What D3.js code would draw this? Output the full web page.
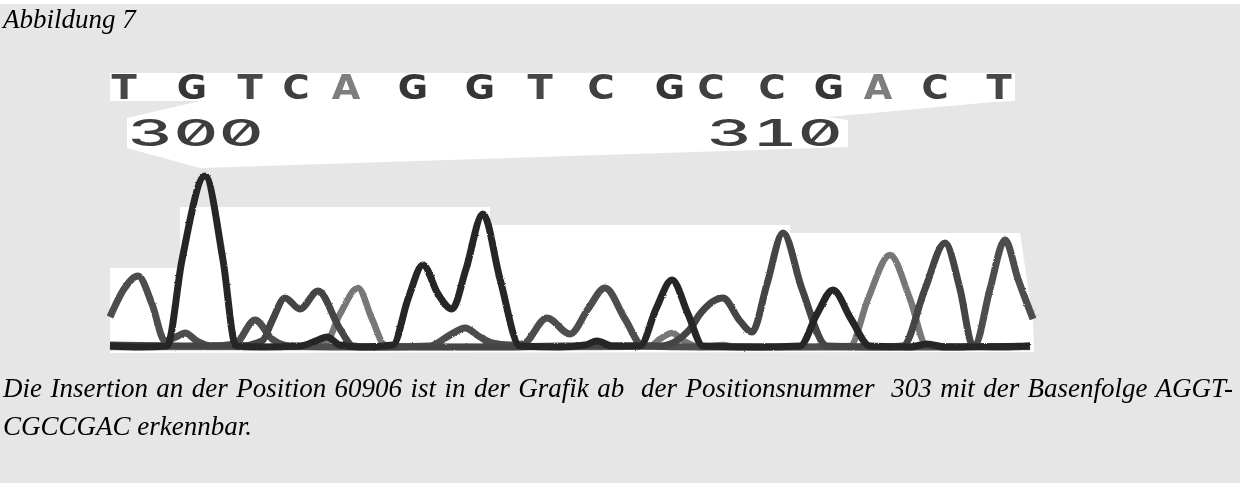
<!DOCTYPE html>
<html>
<head>
<meta charset="utf-8">
<script src="https://cdn.jsdelivr.net/npm/d3@7"></script>
<style>
  html, body { margin: 0; padding: 0; background: #e6e6e6; }
  svg { display: block; }
</style>
</head>
<body>
<svg id="fig" width="1240" height="483"></svg>
<script>
// Called bases and the scan positions they were called at
const bases = ["T","G","T","C","A","G","G","T","C","G","C","C","G","A","C","T"];
const baseScan = [14, 82, 140, 186, 236, 303, 370, 430, 491, 560, 601, 662, 719, 768, 825, 889];

// Position labels (left edge, in scan units)
const positionLabels = ["300", "310"];
const positionScan = [18, 597];

// Trace signal per dye channel: [scan, signal]
const traceG = [[0,3],[30,2],[57,3],[72,89],[95,173],[113,89],[126,3],[152,2],[190,3],[208,9],[217,12],[230,4],[250,2],
  [283,4],[298,50],[313,84],[328,55],[342,40],[356,80],[373,135],[390,70],[410,3],[450,2],[475,4],[487,8],[502,3],
  [530,3],[546,40],[562,69],[578,35],[593,3],[650,2],[690,3],[707,35],[723,59],[741,30],[760,3],[800,2],[817,5],[835,2],[920,3]];
const traceT = [[0,32],[14,60],[28,73],[42,45],[55,8],[66,12],[75,16],[87,8],[102,3],[125,5],[145,29],[162,10],[180,3],
  [220,2],[270,2],[320,3],[340,14],[355,21],[370,12],[382,6],[400,4],[413,5],[437,31],[460,15],[478,40],[495,61],[515,30],
  [533,3],[590,2],[690,2],[770,2],[850,2],[865,4],[880,60],[895,109],[908,70],[923,30]];
const traceC = [[0,4],[90,3],[130,3],[152,8],[162,28],[175,51],[190,40],[208,58],[230,20],[243,3],[260,2],[320,2],[390,2],
  [450,3],[550,3],[580,20],[590,35],[613,51],[630,28],[642,17],[657,65],[673,116],[692,60],[717,3],[770,2],[793,3],
  [815,60],[835,106],[850,60],[863,3],[890,2],[920,3]];
const traceA = [[0,2],[90,2],[190,2],[215,5],[230,35],[248,61],[262,30],[275,4],[310,2],[390,2],[490,2],[540,3],[550,10],
  [562,16],[574,8],[590,2],[602,3],[613,4],[625,2],[690,2],[740,3],[758,50],[780,94],[800,50],[817,3],[920,2]];

const channels = [
  { name: "A", data: traceA, color: "#777777", width: 6.5 },
  { name: "T", data: traceT, color: "#4d4d4d", width: 7 },
  { name: "C", data: traceC, color: "#454545", width: 7 },
  { name: "G", data: traceG, color: "#282828", width: 7 }
];
const baseColor = { A: "#7e7e7e", C: "#404040", G: "#363636", T: "#474747" };

const captionLines = [
  "Die Insertion an der Position 60906 ist in der Grafik ab  der Positionsnummer  303 mit der Basenfolge AGGT-",
  "CGCCGAC erkennbar."
];
const figureTitle = "Abbildung 7";
const serif = "'Liberation Serif', 'Times New Roman', Times, serif";

const svg = d3.select("#fig");
const W = 1240, H = 483;

// page
svg.append("rect").attr("width", W).attr("height", H).attr("fill", "#e6e6e6");
svg.append("rect").attr("width", W).attr("height", 4).attr("fill", "#ffffff");

const defs = svg.append("defs");
const rough = defs.append("filter").attr("id", "rough").attr("x", "-5%").attr("y", "-5%").attr("width", "110%").attr("height", "110%");
rough.append("feTurbulence").attr("type", "fractalNoise").attr("baseFrequency", 0.9).attr("numOctaves", 1).attr("seed", 4).attr("result", "n");
rough.append("feDisplacementMap").attr("in", "SourceGraphic").attr("in2", "n").attr("scale", 2.2)
  .attr("xChannelSelector", "R").attr("yChannelSelector", "G");
const soft = defs.append("filter").attr("id", "soft");
soft.append("feGaussianBlur").attr("stdDeviation", 0.6);

// white panels of the trace print-out
const panels = [
  [[110,73],[1015,73],[1015,101],[993,102],[828,117],[848,120],[848,147],[200,168],[127,148],[127,118],[200,101],[110,101]],
  [[110,268],[180,268],[180,207],[490,207],[490,225],[790,225],[790,233],[1020,233],[1030,300],[1033,318],[1034,352],[110,353]]
];
svg.append("g").selectAll("path").data(panels).join("path")
  .attr("d", p => "M" + p.join("L") + "Z")
  .attr("fill", "#ffffff");

// scales
const x = d3.scaleLinear().domain([0, 925]).range([110, 1035]);
const y = d3.scaleLinear().domain([0, 180]).range([349, 169]);

// base calls
svg.append("g").attr("filter", "url(#soft)")
  .selectAll("text").data(bases).join("text")
  .attr("transform", (d, i) => `translate(${x(baseScan[i])},99) scale(1.12,1)`)
  .attr("text-anchor", "middle")
  .attr("font-family", "DejaVu Sans")
  .attr("font-weight", "bold")
  .attr("font-size", 33)
  .attr("fill", d => baseColor[d])
  .text(d => d);

// position numbers, stretched horizontally like the print-out
const nums = svg.append("g").attr("filter", "url(#soft)")
  .selectAll("text").data(positionLabels).join("text")
  .attr("font-family", "Inter")
  .attr("font-size", 37)
  .attr("font-weight", 500)
  .style("font-feature-settings", "'zero' 1, 'tnum' 1")
  .attr("fill", "#3c3c3c")
  .text(d => d);
nums.attr("transform", function (d, i) {
  const s = 136 / this.getComputedTextLength();
  return `translate(${x(positionScan[i])},146) scale(${s},1)`;
});

// traces
const line = d3.line().x(d => x(d[0])).y(d => y(d[1])).curve(d3.curveMonotoneX);
svg.append("g").attr("filter", "url(#rough)")
  .selectAll("path").data(channels).join("path")
  .attr("d", c => line(c.data))
  .attr("fill", "none")
  .attr("stroke", c => c.color)
  .attr("stroke-width", c => c.width)
  .attr("stroke-linejoin", "round")
  .attr("stroke-linecap", "butt");

// figure title
svg.append("text")
  .attr("x", 3).attr("y", 28)
  .attr("font-family", serif)
  .attr("font-style", "italic")
  .attr("font-size", 27)
  .attr("fill", "#000")
  .text(figureTitle);

// caption, first line justified to the page width
const cap = svg.append("g");
captionLines.forEach((t, i) => {
  const el = cap.append("text")
    .attr("x", 3).attr("y", 397 + i * 38)
    .attr("font-family", serif)
    .attr("font-style", "italic")
    .attr("font-size", 27)
    .attr("fill", "#000")
    .style("white-space", "pre")
    .text(t);
  if (i === 0) {
    const natural = el.node().getComputedTextLength();
    const spaces = (t.match(/ /g) || []).length;
    el.attr("word-spacing", Math.max(0, (1230 - natural) / spaces));
  }
});
</script>
</body>
</html>
